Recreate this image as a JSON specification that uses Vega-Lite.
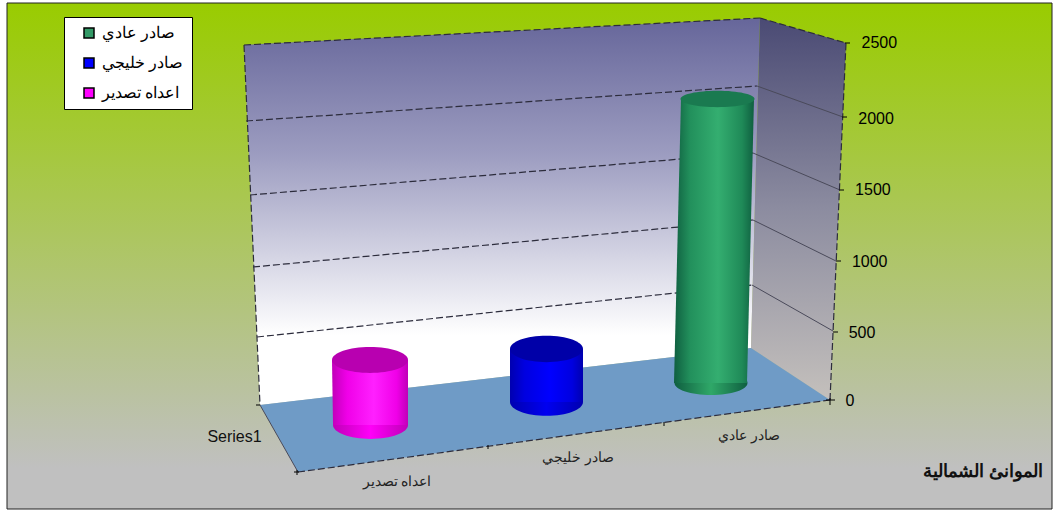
{"$schema":"https://vega.github.io/schema/vega-lite/v6.json","width":1054,"height":511,"padding":0,"autosize":"none","background":"#ffffff","config":{"view":{"stroke":null},"font":"Liberation Sans"},
"encoding":{"x":{"field":"x","type":"quantitative","scale":{"domain":[0,1054],"nice":false,"zero":false},"axis":null},
"y":{"field":"y","type":"quantitative","scale":{"domain":[-777,2800],"nice":false,"zero":false},"axis":{"orient":"right","offset":-200,"title":null,"values":[0,500,1000,1500,2000,2500],"format":"d","grid":false,"domain":false,"ticks":false,"labelFontSize":16,"labelColor":"#000","labelFont":"Liberation Sans","labelPadding":0,"labelAlign":"left","zindex":1,"encoding":{"labels":{"dx":{"value":{"expr":"datum.value*0.0064-9"}},"dy":{"value":{"expr":"datum.value===0||datum.value===2500?0:4"}}}}}}},
"layer":[
{"data":{"values":[{"x":7,"x2":1052,"y":2779,"y2":-763}]},"mark":{"type":"rect","stroke":"#222","strokeWidth":1,"fill":{"gradient":"linear","x1":0,"y1":0,"x2":0,"y2":1,"stops":[{"offset":0,"color":"#99cc00"},{"offset":0.92,"color":"#c0c0c0"},{"offset":1,"color":"#c0c0c0"}]}},"encoding":{"x2":{"field":"x2"},"y2":{"field":"y2"}}},
{"data":{"values":[{"x":244,"y":2485,"y2":2485},{"x":260,"y":2492,"y2":-35},{"x":751,"y":2670,"y2":364},{"x":760,"y":2674,"y2":2674}]},"mark":{"type":"area","fill":{"gradient":"linear","x1":0,"y1":0,"x2":0,"y2":1,"stops":[{"offset":0,"color":"#66669a"},{"offset":0.35,"color":"#9c9cc0"},{"offset":0.82,"color":"#ffffff"},{"offset":1,"color":"#ffffff"}]}},"encoding":{"y2":{"field":"y2"}}},
{"data":{"values":[{"x":751,"y":364,"y2":364},{"x":760,"y":2674,"y2":322},{"x":830,"y":2532,"y2":0},{"x":846,"y":2499,"y2":2499}]},"mark":{"type":"area","fill":{"gradient":"linear","x1":0,"y1":0,"x2":0,"y2":1,"stops":[{"offset":0,"color":"#4a4a74"},{"offset":0.5,"color":"#8c8ca0"},{"offset":1,"color":"#c4c0bc"}]}},"encoding":{"y2":{"field":"y2"}}},
{"data":{"values":[{"x":260,"y":-35,"y2":-35},{"x":298,"y":-4,"y2":-504},{"x":751,"y":364,"y2":-75},{"x":830,"y":0,"y2":0}]},"mark":{"type":"area","fill":"#6f9bc6"},"encoding":{"y2":{"field":"y2"}}},
{"data":{"values":[{"g":"g2000","x":246,"y":1953},{"g":"g2000","x":757,"y":2198},{"g":"g1500","x":250,"y":1435},{"g":"g1500","x":753,"y":1729},{"g":"g1000","x":253,"y":931},{"g":"g1000","x":753,"y":1260},{"g":"g500","x":257,"y":441},{"g":"g500","x":752,"y":805},{"g":"top","x":244,"y":2485},{"g":"top","x":760,"y":2674},{"g":"left","x":244,"y":2485},{"g":"left","x":260,"y":-35},{"g":"stop","x":760,"y":2674},{"g":"stop","x":846,"y":2499},{"g":"right","x":846,"y":2499},{"g":"right","x":830,"y":0},{"g":"front","x":298,"y":-504},{"g":"front","x":830,"y":0}]},"mark":{"type":"line","stroke":"#2c2c3c","strokeWidth":1.2,"strokeDash":[7,3]},"encoding":{"detail":{"field":"g"}}},
{"data":{"values":[{"g":"s2000","x":757,"y":2198},{"g":"s2000","x":843,"y":1981},{"g":"s1500","x":753,"y":1729},{"g":"s1500","x":840,"y":1470},{"g":"s1000","x":753,"y":1260},{"g":"s1000","x":836,"y":973},{"g":"s500","x":752,"y":805},{"g":"s500","x":833,"y":483},{"g":"fl","x":260,"y":-35},{"g":"fl","x":298,"y":-504}]},"mark":{"type":"line","stroke":"#4a4a5a","strokeWidth":1},"encoding":{"detail":{"field":"g"}}},
{"data":{"values":[{"x":845,"x2":850,"y":2499},{"x":842,"x2":847,"y":1981},{"x":839,"x2":844,"y":1470},{"x":836,"x2":841,"y":973},{"x":833,"x2":838,"y":476},{"x":826,"x2":835,"y":0},{"x":256,"x2":260,"y":-35},{"x":294,"x2":299,"y":-504}]},"mark":{"type":"rule","stroke":"#000","strokeWidth":1},"encoding":{"x2":{"field":"x2"}}},
{"data":{"values":[{"x":830,"y":14,"y2":-35},{"x":664,"y":-154,"y2":-182},{"x":488,"y":-315,"y2":-343},{"x":297,"y":-490,"y2":-525}]},"mark":{"type":"rule","stroke":"#000","strokeWidth":1},"encoding":{"y2":{"field":"y2"}}},
{"data":{"values":[{"s":"صادر عادي","x":711,"y":119},{"s":"صادر خليجي","x":546,"y":-14},{"s":"اعداه تصدير","x":370,"y":-175}]},"mark":{"type":"point","filled":true,"opacity":1,"size":4000,"shape":"M-1,0A1,0.2,0,1,1,1,0A1,0.2,0,1,1,-1,0Z"},"encoding":{"color":{"field":"s","type":"nominal","scale":{"domain":["صادر عادي","صادر خليجي","اعداه تصدير"],"range":["#339966","#0000ff","#ff00ff"]},"legend":{"title":null,"orient":"none","legendX":64,"legendY":17,"fillColor":"#ffffff","strokeColor":"#000000","padding":8,"rowPadding":14,"symbolOffset":9,"labelFontSize":16,"labelColor":"#000","labelOffset":5,"symbolType":"square","symbolSize":100,"encoding":{"symbols":{"shape":{"value":"square"},"size":{"value":100},"stroke":{"value":"#000000"},"strokeWidth":{"value":1.5},"opacity":{"value":1}}}}}}},
{"data":{"values":[{"x":711,"y":119}]},"mark":{"type":"point","filled":true,"opacity":1,"size":5329,"shape":"M-1,0A1,0.33,0,1,1,1,0A1,0.33,0,1,1,-1,0Z","fill":{"gradient":"linear","x1":0,"y1":0,"x2":1,"y2":0,"stops":[{"offset":0,"color":"#0f5f40"},{"offset":0.5,"color":"#2fa868"},{"offset":1,"color":"#0f5f40"}]}}},
{"data":{"values":[{"x":681,"x2":754,"y":2107},{"x":674,"x2":747,"y":119}]},"mark":{"type":"area","orient":"horizontal","fill":{"gradient":"linear","x1":0,"y1":0,"x2":1,"y2":0,"stops":[{"offset":0,"color":"#0f5f40"},{"offset":0.2,"color":"#22905c"},{"offset":0.55,"color":"#34ae70"},{"offset":0.85,"color":"#1f8a58"},{"offset":1,"color":"#0f5f40"}]}},"encoding":{"x2":{"field":"x2"}}},
{"data":{"values":[{"x":717.5,"y":2107}]},"mark":{"type":"point","filled":true,"opacity":1,"size":5476,"shape":"M-1,0A1,0.22,0,1,1,1,0A1,0.22,0,1,1,-1,0Z","fill":"#1a7a50"}},
{"data":{"values":[{"x":546.5,"y":-14}]},"mark":{"type":"point","filled":true,"opacity":1,"size":5329,"shape":"M-1,0A1,0.38,0,1,1,1,0A1,0.38,0,1,1,-1,0Z","fill":{"gradient":"linear","x1":0,"y1":0,"x2":1,"y2":0,"stops":[{"offset":0,"color":"#0000b0"},{"offset":0.5,"color":"#0000f0"},{"offset":1,"color":"#0000b0"}]}}},
{"data":{"values":[{"x":510,"x2":583,"y":357},{"x":510,"x2":583,"y":-14}]},"mark":{"type":"area","orient":"horizontal","fill":{"gradient":"linear","x1":0,"y1":0,"x2":1,"y2":0,"stops":[{"offset":0,"color":"#0000b0"},{"offset":0.2,"color":"#0000e0"},{"offset":0.55,"color":"#0000ff"},{"offset":0.85,"color":"#0000e0"},{"offset":1,"color":"#0000b0"}]}},"encoding":{"x2":{"field":"x2"}}},
{"data":{"values":[{"x":546.5,"y":357}]},"mark":{"type":"point","filled":true,"opacity":1,"size":5329,"shape":"M-1,0A1,0.36,0,1,1,1,0A1,0.36,0,1,1,-1,0Z","fill":"#0000a8"}},
{"data":{"values":[{"x":370.5,"y":-175}]},"mark":{"type":"point","filled":true,"opacity":1,"size":5625,"shape":"M-1,0A1,0.37,0,1,1,1,0A1,0.37,0,1,1,-1,0Z","fill":{"gradient":"linear","x1":0,"y1":0,"x2":1,"y2":0,"stops":[{"offset":0,"color":"#c000b8"},{"offset":0.5,"color":"#ff00f8"},{"offset":1,"color":"#c000b8"}]}}},
{"data":{"values":[{"x":332,"x2":408,"y":280},{"x":333,"x2":408,"y":-175}]},"mark":{"type":"area","orient":"horizontal","fill":{"gradient":"linear","x1":0,"y1":0,"x2":1,"y2":0,"stops":[{"offset":0,"color":"#c000b8"},{"offset":0.2,"color":"#f000e8"},{"offset":0.55,"color":"#ff20ff"},{"offset":0.85,"color":"#f000e8"},{"offset":1,"color":"#c000b8"}]}},"encoding":{"x2":{"field":"x2"}}},
{"data":{"values":[{"x":370,"y":280}]},"mark":{"type":"point","filled":true,"opacity":1,"size":5776,"shape":"M-1,0A1,0.34,0,1,1,1,0A1,0.34,0,1,1,-1,0Z","fill":"#b800b0"}},
{"data":{"values":[{"t":"Series1","x":234.5,"y":-259}]},"mark":{"type":"text","fontSize":16,"font":"Liberation Sans","color":"#111"},"encoding":{"text":{"field":"t"}}},
{"data":{"values":[{"t":"صادر عادي","x":749,"y":-252},{"t":"صادر خليجي","x":578,"y":-406},{"t":"اعداه تصدير","x":397,"y":-574}]},"mark":{"type":"text","fontSize":13.6,"color":"#222"},"encoding":{"text":{"field":"t"}}},
{"data":{"values":[{"t":"الموانئ الشمالية","x":983,"y":-504}]},"mark":{"type":"text","fontSize":18,"fontWeight":"bold","color":"#111"},"encoding":{"text":{"field":"t"}}}
]}
